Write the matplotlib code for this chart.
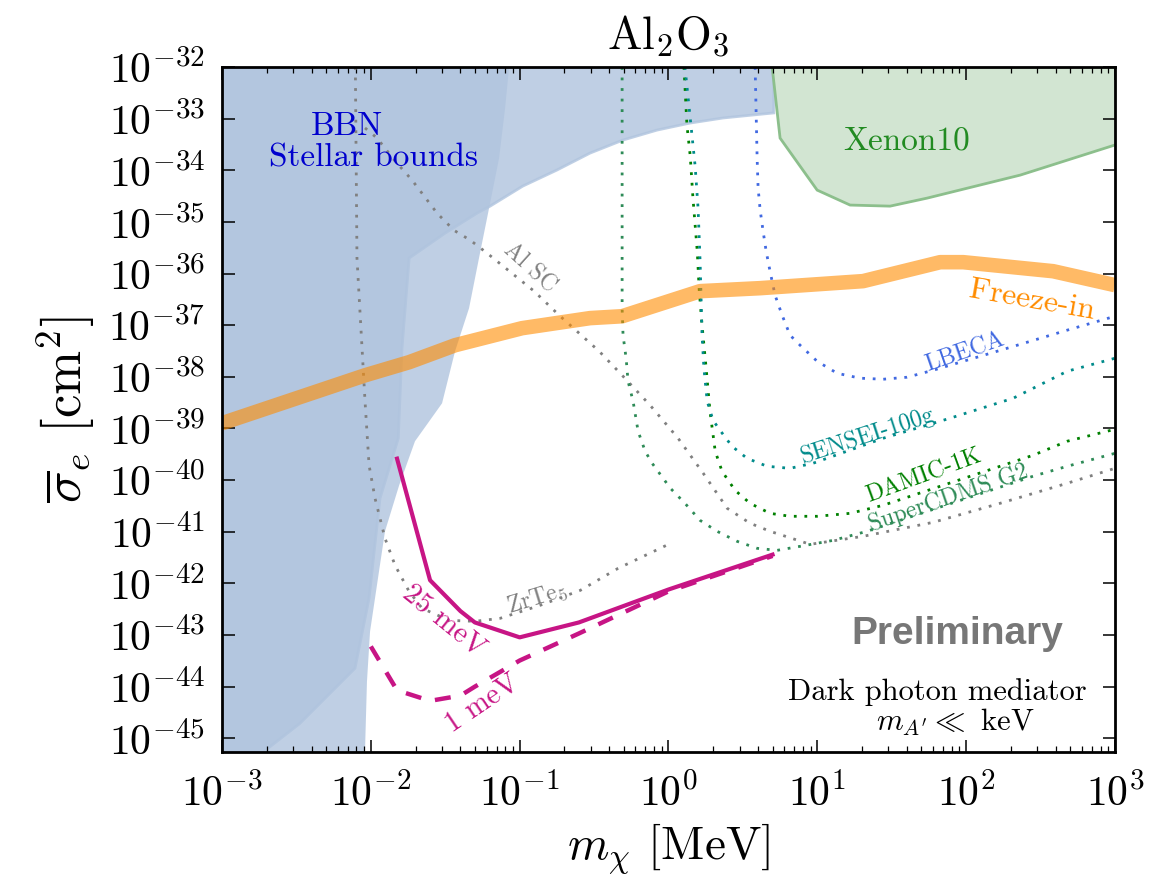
import matplotlib
matplotlib.use("Agg")
import matplotlib.pyplot as plt
from matplotlib.ticker import LogLocator, NullLocator
import numpy as np

plt.rcParams["font.family"] = "serif"
plt.rcParams["font.serif"] = ["cmr10"]
plt.rcParams["mathtext.fontset"] = "cm"
plt.rcParams["axes.formatter.use_mathtext"] = True

# Excluded regions (mass in MeV, cross section in cm^2)
stellar_x = [5.1, 5.1, 2.33, 1.40, 0.838, 0.495, 0.297, 0.178, 0.105, 0.0633, 0.0518,
             0.0316, 0.0181, 0.0162, 0.0153, 0.01153, 9.73e-3, 7.83e-3, 3.34e-3, 1.95e-3]
stellar_y = [1e-32, 1.29e-33, 1.03e-33, 8.22e-34, 6.0e-34, 3.85e-34, 2.15e-34, 1.01e-34,
             4.94e-35, 2.02e-35, 1.48e-35, 6.07e-36, 1.99e-36, 3.58e-38, 6.46e-40, 4.44e-41,
             5.12e-43, 2.26e-44, 1.94e-45, 5.8e-46]
bbn_x = [0.0849, 0.0798, 0.0727, 0.0623, 0.0533, 0.0457, 0.0368, 0.0301, 0.0198, 0.0155,
         0.01245, 0.01135, 9.88e-3, 9.42e-3, 9.14e-3]
bbn_y = [1e-32, 1.6e-33, 1.72e-34, 1.85e-35, 1.99e-36, 2.13e-37, 3.13e-38, 3.07e-39,
         5.65e-40, 7.93e-41, 1.02e-41, 1.71e-42, 1.17e-43, 1.26e-44, 5.8e-46]
xenon_x = [4.97, 5.62, 9.97, 16.6, 30.8, 54.7, 231, 1000]
xenon_y = [1e-32, 4.2e-34, 4.13e-35, 2.12e-35, 2.02e-35, 2.89e-35, 8.07e-35, 3.09e-34]

# Freeze-in target
freeze_x = [1e-3, 9.14e-3, 0.0181, 0.0368, 0.1038, 0.297, 0.488, 1.63, 4.13, 20.3, 66.9,
            95.5, 384, 1000]
freeze_y = [1.26e-39, 1.07e-38, 1.92e-38, 4.09e-38, 8.75e-38, 1.37e-37, 1.49e-37, 4.56e-37,
            5.21e-37, 7.13e-37, 1.66e-36, 1.66e-36, 1.11e-36, 5.96e-37]

# Projected reaches
lbeca_x = [3.82, 3.94, 4.0, 4.13, 4.32, 4.53, 4.81, 5.20, 5.80, 6.56, 7.66, 9.97, 13.6,
           19.4, 27.7, 40.1, 60, 189, 477, 1000]
lbeca_y = [1e-32, 1.72e-34, 4.52e-35, 1.69e-35, 6.64e-36, 2.72e-36, 1.11e-36, 3.81e-37,
           1.56e-37, 6.39e-38, 4.09e-38, 2.0e-38, 1.17e-38, 9.4e-39, 8.98e-39, 9.82e-39,
           1.34e-38, 3.58e-38, 8.0e-38, 1.49e-37]
sensei_x = [1.29, 1.51, 1.58, 1.63, 1.66, 1.68, 1.73, 1.82, 1.99, 2.22, 2.67, 3.37, 4.60,
            6.56, 9.37, 15.8, 27.7, 78, 207, 477, 1000]
sensei_y = [1e-32, 1.2e-34, 1.85e-35, 1.74e-36, 2.44e-37, 6.39e-38, 1.47e-38, 3.37e-39,
            1.44e-39, 9.2e-40, 4.52e-40, 2.64e-40, 1.85e-40, 1.69e-40, 2.12e-40, 3.62e-40,
            6.46e-40, 1.58e-39, 3.85e-39, 1.28e-38, 2.29e-38]
damic_x = [1.27, 1.33, 1.40, 1.46, 1.56, 1.61, 1.68, 1.79, 1.90, 2.06, 2.29, 2.80, 3.53,
           4.81, 6.56, 9.97, 16.6, 27.7, 282, 477, 1000]
damic_y = [1e-32, 7.52e-34, 1.88e-34, 2.89e-35, 2.72e-36, 4.56e-37, 1.0e-37, 1.47e-38,
           2.15e-39, 3.62e-40, 1.48e-40, 6.34e-41, 3.55e-41, 2.27e-41, 1.99e-41, 1.99e-41,
           2.27e-41, 3.25e-41, 3.03e-40, 5.65e-40, 9.64e-40]
cdms_x = [0.488, 0.488, 0.488, 0.495, 0.519, 0.535, 0.578, 0.625, 0.697, 0.776, 1.03, 1.29,
          1.63, 2.12, 2.89, 3.94, 5.37, 7.66, 12.8, 21.6, 282, 477, 1000]
cdms_y = [1e-32, 8.67e-36, 2.13e-37, 6.39e-38, 2.29e-38, 8.22e-39, 3.37e-39, 8.8e-40,
          3.62e-40, 2.12e-40, 6.94e-41, 3.55e-41, 1.66e-41, 1.02e-41, 6.52e-42, 4.77e-42,
          4.36e-42, 5.21e-42, 6.81e-42, 1.02e-41, 1.19e-40, 1.85e-40, 3.3e-40]
alsc_x = [9.14e-3, 0.01101, 0.01455, 0.0189, 0.0279, 0.0362, 0.0465, 0.0604, 0.125, 0.184,
          0.342, 0.488, 0.752, 1.16, 1.71, 2.48, 3.53, 4.81, 8.95, 20.3, 60, 169, 477, 1000]
alsc_y = [6.6e-34, 4.2e-34, 1.51e-34, 6.46e-35, 1.47e-35, 6.87e-36, 4.44e-36, 2.48e-36,
          4.56e-37, 1.56e-37, 3.13e-38, 1.07e-38, 2.82e-39, 6.46e-40, 1.36e-40, 2.84e-41,
          1.46e-41, 1.02e-41, 5.7e-42, 8.15e-42, 1.52e-41, 3.55e-41, 8.67e-41, 1.69e-40]
zrte_x = [7.87e-3, 8.07e-3, 9.14e-3, 9.73e-3, 0.01067, 0.01245, 0.01455, 0.01806, 0.0221,
          0.0336, 0.0501, 0.0738, 0.137, 0.255, 0.458, 1.0]
zrte_y = [1e-32, 1.99e-36, 3.37e-39, 1.94e-40, 4.44e-41, 7.45e-42, 2.23e-42, 7.0e-43,
          3.28e-43, 1.92e-43, 1.84e-43, 2.1e-43, 3.75e-43, 7.3e-43, 1.95e-42, 5.7e-42]

# Al2O3 reach for two thresholds
al2o3_25_x = [0.015, 0.025, 0.04, 0.05, 0.1, 0.25, 1.0, 5.0]
al2o3_25_y = [2.6e-40, 1.15e-42, 2.9e-43, 1.75e-43, 9.0e-44, 1.75e-43, 7.6e-43, 3.6e-42]
al2o3_1_x = [0.01, 0.015, 0.025, 0.04, 0.05, 0.1, 0.25, 1.0, 5.0]
al2o3_1_y = [6.0e-44, 8.5e-45, 5.3e-45, 6.7e-45, 1.0e-44, 3.2e-44, 1.07e-43, 7.0e-43, 3.4e-42]

fig = plt.figure(figsize=(11.73, 8.85), dpi=100)
ax = fig.add_axes([0.18926, 0.14972, 0.76129, 0.77457])
ax.set_xscale("log")
ax.set_yscale("log")


def shade(xs, ys, **kw):
    # close the region off beyond the top, left and bottom of the axes
    px = np.r_[xs[0], xs, xs[-1], 1e-5, 1e-5]
    py = np.r_[1e-30, ys, 1e-48, 1e-48, 1e-30]
    ax.fill(px, py, **kw)


shade(stellar_x, stellar_y, facecolor="lightsteelblue", edgecolor="lightsteelblue",
      alpha=0.8, lw=2)
shade(bbn_x, bbn_y, facecolor="lightsteelblue", edgecolor="none", alpha=0.8)

ax.fill(np.r_[xenon_x[0], xenon_x, 1e4, 1e4],
        np.r_[1e-30, xenon_y, xenon_y[-1], 1e-30],
        facecolor="#d2e5d2", edgecolor="#8cbf8c", lw=2)

dots = dict(lw=2.0, dashes=(1, 2.8))
ax.plot(zrte_x, zrte_y, color="gray", **dots)
ax.plot(alsc_x, alsc_y, color="gray", **dots)
ax.plot(cdms_x, cdms_y, color="seagreen", **dots)
ax.plot(damic_x, damic_y, color="green", **dots)
ax.plot(sensei_x, sensei_y, color="darkcyan", **dots)
ax.plot(lbeca_x, lbeca_y, color="royalblue", **dots)

ax.plot(freeze_x, freeze_y, color="darkorange", alpha=0.6, lw=10.5,
        solid_capstyle="butt", solid_joinstyle="round")

ax.plot(al2o3_25_x, al2o3_25_y, color="mediumvioletred", lw=3)
ax.plot(al2o3_1_x, al2o3_1_y, color="mediumvioletred", lw=3.2, dashes=(3.6, 3.2))

# labels
ax.text(6.92e-3, 7.2e-34, "BBN", color="mediumblue", fontsize=24, ha="center", va="center")
ax.text(0.01035, 1.72e-34, "Stellar bounds", color="mediumblue", fontsize=24,
        ha="center", va="center")
ax.text(40.1, 3.68e-34, "Xenon10", color="forestgreen", fontsize=24, ha="center", va="center")
ax.text(278, 3.05e-37, "Freeze-in", color="darkorange", fontsize=23, rotation=-10,
        ha="center", va="center")
ax.text(0.1175, 1.27e-36, "Al SC", color="gray", fontsize=17, rotation=-42,
        ha="center", va="center")
ax.text(98.4, 3.0e-38, "LBECA", color="royalblue", fontsize=17, rotation=19,
        ha="center", va="center")
ax.text(21.6, 7.38e-40, "SENSEI-100g", color="darkcyan", fontsize=17, rotation=18,
        ha="center", va="center")
ax.text(52.2, 1.19e-40, "DAMIC-1K", color="green", fontsize=17, rotation=20,
        ha="center", va="center")
ax.text(75.7, 4.44e-41, "SuperCDMS G2", color="seagreen", fontsize=17, rotation=19,
        ha="center", va="center")
ax.text(0.131, 5.12e-43, r"ZrTe$_5$", color="gray", fontsize=17, rotation=17,
        ha="center", va="center")
ax.text(0.031, 1.84e-43, "25 meV", color="mediumvioletred", fontsize=21, rotation=-39,
        ha="center", va="center")
ax.text(0.0558, 4.72e-45, "1 meV", color="mediumvioletred", fontsize=21, rotation=34,
        ha="center", va="center")

ax.text(0.8236, 0.173, "Preliminary", transform=ax.transAxes, family="Liberation Sans",
        weight="bold", color="#777777", fontsize=28, ha="center", va="center")
ax.text(0.8007, 0.0883, "Dark photon mediator", transform=ax.transAxes, fontsize=22,
        ha="center", va="center")
ax.text(0.8208, 0.0445, r"$m_{A'} \ll$ keV", transform=ax.transAxes, fontsize=22,
        ha="center", va="center")

ax.set_xlim(1e-3, 1e3)
ax.set_ylim(5.3e-46, 1e-32)

ax.xaxis.set_major_locator(LogLocator(base=10, numticks=20))
ax.xaxis.set_minor_locator(LogLocator(base=10, subs=np.arange(2, 10), numticks=20))
ax.yaxis.set_major_locator(LogLocator(base=10, numticks=20))
ax.yaxis.set_minor_locator(NullLocator())

ax.tick_params(which="both", direction="in", top=True, right=True)
ax.tick_params(which="major", length=9, width=1.1, labelsize=30, pad=12)
ax.tick_params(axis="x", which="major", pad=15)
ax.tick_params(which="minor", length=4.5, width=0.9)
for s in ax.spines.values():
    s.set_linewidth(2)

ax.set_xlabel(r"$m_\chi$ [MeV]", fontsize=34, labelpad=6)
ax.set_ylabel(r"$\overline{\sigma}_e$ [cm$^2$]", fontsize=38, labelpad=8)
ax.set_title(r"Al$_2$O$_3$", fontsize=33, pad=13)

fig.savefig("out.png", dpi=100)
